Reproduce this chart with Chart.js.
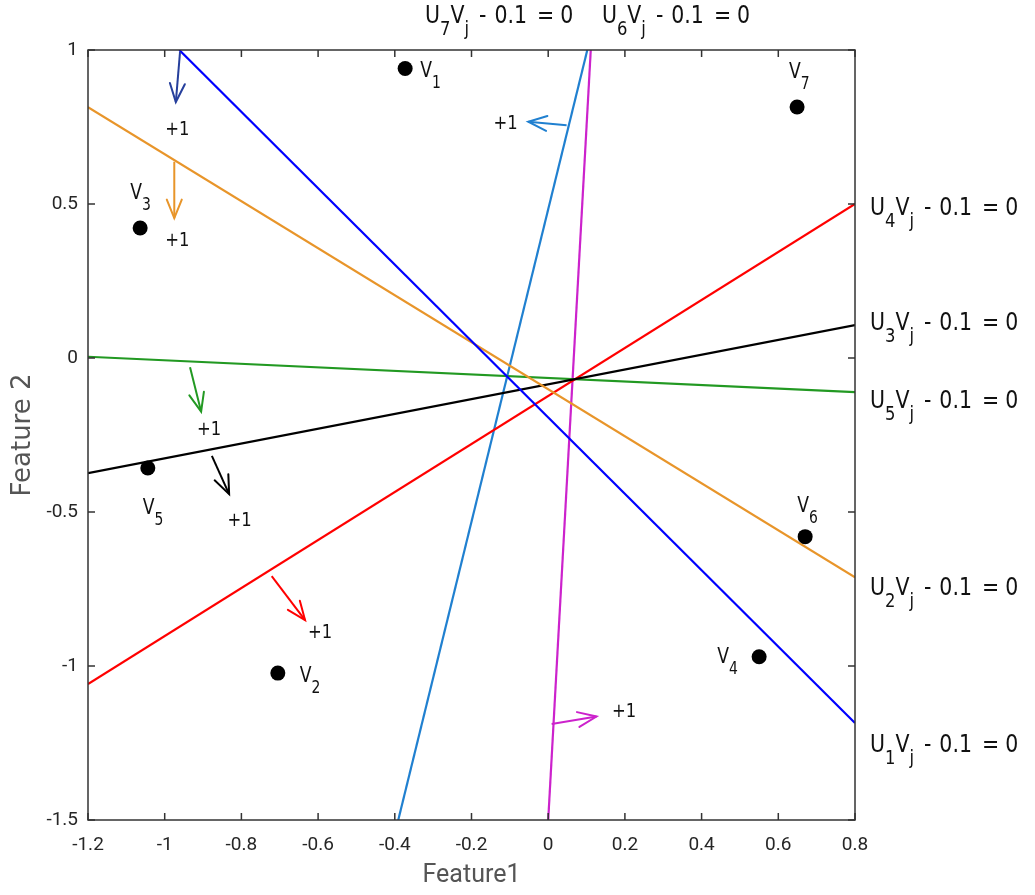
<!DOCTYPE html>
<html>
<head>
<meta charset="utf-8">
<script src="https://cdn.jsdelivr.net/npm/chart.js@4.4.0/dist/chart.umd.min.js"></script>
<style>
    html, body { margin: 0; padding: 0; background: #fff; }
</style>
</head>
<body>
<canvas id="chart" width="1035" height="895"></canvas>
<script>
// Separating lines U_k V_j - 0.1 = 0 (ends on the frame)
const lineNames = ['1', '2', '3', '4', '5', '6', '7'];
const lineStartX = [-0.962, -1.2, -1.2, -1.2, -1.2, 0.0, -0.391];
const lineStartY = [1.0, 0.814, -0.374, -1.059, 0.004, -1.5, -1.5];
const lineEndX = [0.8, 0.8, 0.8, 0.8, 0.8, 0.111, 0.102];
const lineEndY = [-1.185, -0.712, 0.107, 0.5, -0.111, 1.0, 1.0];

// Where each equation label sits (data units, baseline of text)
const eqLabelX = [0.839, 0.839, 0.839, 0.839, 0.839, 0.140, -0.321];
const eqLabelY = [-1.279, -0.769, 0.091, 0.464, -0.162, 1.088, 1.088];

// Samples V1..V7
const pointNames = ['1', '2', '3', '4', '5', '6', '7'];
const pointX = [-0.373, -0.705, -1.064, 0.55, -1.044, 0.67, 0.649];
const pointY = [0.94, -1.023, 0.422, -0.97, -0.357, -0.58, 0.815];

// Arrows pointing to the +1 side of each line
const arrowStartX = [-0.960, -0.975, -0.877, -0.721, -0.934, 0.009, 0.048];
const arrowStartY = [0.994, 0.637, -0.318, -0.708, -0.030, -1.188, 0.756];
const arrowEndX = [-0.971, -0.975, -0.832, -0.634, -0.905, 0.126, -0.052];
const arrowEndY = [0.831, 0.454, -0.442, -0.851, -0.174, -1.164, 0.767];
const plusX = [-0.967, -0.967, -0.805, -0.595, -0.884, 0.198, -0.111];
const plusY = [0.740, 0.380, -0.529, -0.893, -0.234, -1.148, 0.760];

// Tick labels
const xTicks = [-1.2, -1, -0.8, -0.6, -0.4, -0.2, 0, 0.2, 0.4, 0.6, 0.8];
const yTicks = [-1.5, -1, -0.5, 0, 0.5, 1];

// Styles
const lineColors = ['#0000ff', '#e8952a', '#000000', '#ff0000', '#229922', '#cc22cc', '#2080d0'];
const arrowColors = ['#263f9c', '#e8952a', '#000000', '#ff0000', '#229922', '#cc22cc', '#2080d0'];
const labelOffsets = [[15, 9], [22, 9], [-10, -29], [-42, 6], [-5, 46], [-8, -25], [-8, -29]];
const SQUASH = 0.82;
const TEXT_FONT = '"DejaVu Sans"';
const TEXT_COLOR = '#111111';
const FRAME_COLOR = '#333333';

// Draw a run of text pieces (with subscripts), squashed horizontally
function drawRich(ctx, x, y, parts) {
    let cx = x;
    parts.forEach(p => {
        ctx.save();
        ctx.font = p.size + 'px ' + TEXT_FONT;
        ctx.textAlign = 'left';
        ctx.textBaseline = 'alphabetic';
        ctx.translate(cx, y + (p.dy || 0));
        ctx.scale(SQUASH, 1);
        ctx.fillText(p.t, 0, 0);
        cx += ctx.measureText(p.t).width * SQUASH + (p.gap || 0);
        ctx.restore();
    });
}

function drawCentered(ctx, str, x, y, size) {
    ctx.save();
    ctx.font = size + 'px ' + TEXT_FONT;
    ctx.textAlign = 'center';
    ctx.textBaseline = 'middle';
    ctx.translate(x, y);
    ctx.scale(SQUASH, 1);
    ctx.fillText(str, 0, 0);
    ctx.restore();
}

// Frame, inward ticks, arrowheads and all annotation text
const decorPlugin = {
    id: 'decor',
    afterDatasetsDraw(chart) {
        const ctx = chart.ctx;
        const xs = chart.scales.x;
        const ys = chart.scales.y;
        const a = chart.chartArea;

        // arrowheads
        arrowStartX.forEach((sx, i) => {
            const x0 = xs.getPixelForValue(sx);
            const y0 = ys.getPixelForValue(arrowStartY[i]);
            const x1 = xs.getPixelForValue(arrowEndX[i]);
            const y1 = ys.getPixelForValue(arrowEndY[i]);
            const ang = Math.atan2(y1 - y0, x1 - x0);
            const len = 20, spread = 22 * Math.PI / 180;
            ctx.save();
            ctx.strokeStyle = arrowColors[i];
            ctx.lineWidth = 2;
            ctx.lineCap = 'round';
            ctx.beginPath();
            ctx.moveTo(x1 - len * Math.cos(ang - spread), y1 - len * Math.sin(ang - spread));
            ctx.lineTo(x1, y1);
            ctx.lineTo(x1 - len * Math.cos(ang + spread), y1 - len * Math.sin(ang + spread));
            ctx.stroke();
            ctx.restore();
        });

        // frame
        ctx.save();
        ctx.strokeStyle = FRAME_COLOR;
        ctx.lineWidth = 1.5;
        ctx.strokeRect(a.left, a.top, a.right - a.left, a.bottom - a.top);
        ctx.beginPath();
        xTicks.forEach(v => {
            const px = xs.getPixelForValue(v);
            ctx.moveTo(px, a.bottom); ctx.lineTo(px, a.bottom - 7);
            ctx.moveTo(px, a.top); ctx.lineTo(px, a.top + 7);
        });
        yTicks.forEach(v => {
            const py = ys.getPixelForValue(v);
            ctx.moveTo(a.left, py); ctx.lineTo(a.left + 7, py);
            ctx.moveTo(a.right, py); ctx.lineTo(a.right - 7, py);
        });
        ctx.stroke();
        ctx.restore();
    },
    afterDraw(chart) {
        const ctx = chart.ctx;
        const xs = chart.scales.x;
        const ys = chart.scales.y;
        ctx.save();
        ctx.fillStyle = TEXT_COLOR;

        // +1 marks
        plusX.forEach((px, i) => {
            drawCentered(ctx, '+1', xs.getPixelForValue(px), ys.getPixelForValue(plusY[i]), 20);
        });

        // V labels
        pointNames.forEach((n, i) => {
            const x = xs.getPixelForValue(pointX[i]) + labelOffsets[i][0];
            const y = ys.getPixelForValue(pointY[i]) + labelOffsets[i][1];
            drawRich(ctx, x, y, [{ t: 'V', size: 21 }, { t: n, size: 17, dy: 11 }]);
        });

        // line equations
        lineNames.forEach((n, i) => {
            const x = xs.getPixelForValue(eqLabelX[i]);
            const y = ys.getPixelForValue(eqLabelY[i]);
            drawRich(ctx, x, y, [
                { t: 'U', size: 25 },
                { t: n, size: 20, dy: 12 },
                { t: 'V', size: 25 },
                { t: 'j', size: 20, dy: 12, gap: 10 },
                { t: '-', size: 25, gap: 8 },
                { t: '0.1', size: 25, gap: 10 },
                { t: '=', size: 25, gap: 6 },
                { t: '0', size: 25 }
            ]);
        });
        ctx.restore();
    }
};

function buildDatasets() {
    const sets = [];
    sets.push({
        label: 'samples',
        data: pointX.map((x, i) => ({ x: x, y: pointY[i] })),
        backgroundColor: '#000',
        borderWidth: 0,
        pointRadius: 7.5,
        order: 0
    });
    lineNames.forEach((n, i) => {
        sets.push({
            type: 'line',
            label: 'U' + n,
            data: [{ x: lineStartX[i], y: lineStartY[i] }, { x: lineEndX[i], y: lineEndY[i] }],
            borderColor: lineColors[i],
            borderWidth: 2.2,
            pointRadius: 0,
            fill: false,
            order: 2
        });
        sets.push({
            type: 'line',
            label: 'arrow U' + n,
            data: [{ x: arrowStartX[i], y: arrowStartY[i] }, { x: arrowEndX[i], y: arrowEndY[i] }],
            borderColor: arrowColors[i],
            borderWidth: 2,
            pointRadius: 0,
            fill: false,
            order: 1
        });
    });
    return sets;
}

const tickFont = { family: 'Roboto', size: 19 };

new Chart(document.getElementById('chart'), {
    type: 'scatter',
    data: { datasets: buildDatasets() },
    options: {
        responsive: false,
        animation: false,
        layout: { padding: { top: 50, right: 180, left: 0, bottom: 0 } },
        plugins: {
            legend: { display: false },
            tooltip: { enabled: false }
        },
        scales: {
            x: {
                type: 'linear',
                min: -1.2,
                max: 0.8,
                grid: { display: false, drawTicks: false },
                border: { display: false },
                afterBuildTicks: s => { s.ticks = xTicks.map(v => ({ value: v })); },
                afterFit: s => { s.height = 75; s.paddingLeft = 0; s.paddingRight = 0; },
                ticks: {
                    font: tickFont,
                    color: '#262626',
                    padding: 14,
                    maxRotation: 0,
                    autoSkip: false,
                    callback: v => String(v)
                },
                title: {
                    display: true,
                    text: 'Feature1',
                    color: '#555555',
                    font: { family: 'Roboto', size: 25, lineHeight: 1 },
                    padding: { top: 0, bottom: 7 }
                }
            },
            y: {
                type: 'linear',
                min: -1.5,
                max: 1,
                grid: { display: false, drawTicks: false },
                border: { display: false },
                afterBuildTicks: s => { s.ticks = yTicks.map(v => ({ value: v })); },
                afterFit: s => { s.width = 88; s.paddingTop = 0; s.paddingBottom = 0; },
                ticks: {
                    font: tickFont,
                    color: '#262626',
                    padding: 10,
                    autoSkip: false,
                    callback: v => String(v)
                },
                title: {
                    display: true,
                    text: 'Feature 2',
                    color: '#555555',
                    font: { family: 'DejaVu Sans', size: 26, lineHeight: 1 },
                    padding: { top: 10, bottom: 0 }
                }
            }
        }
    },
    plugins: [decorPlugin]
});
</script>
</body>
</html>
